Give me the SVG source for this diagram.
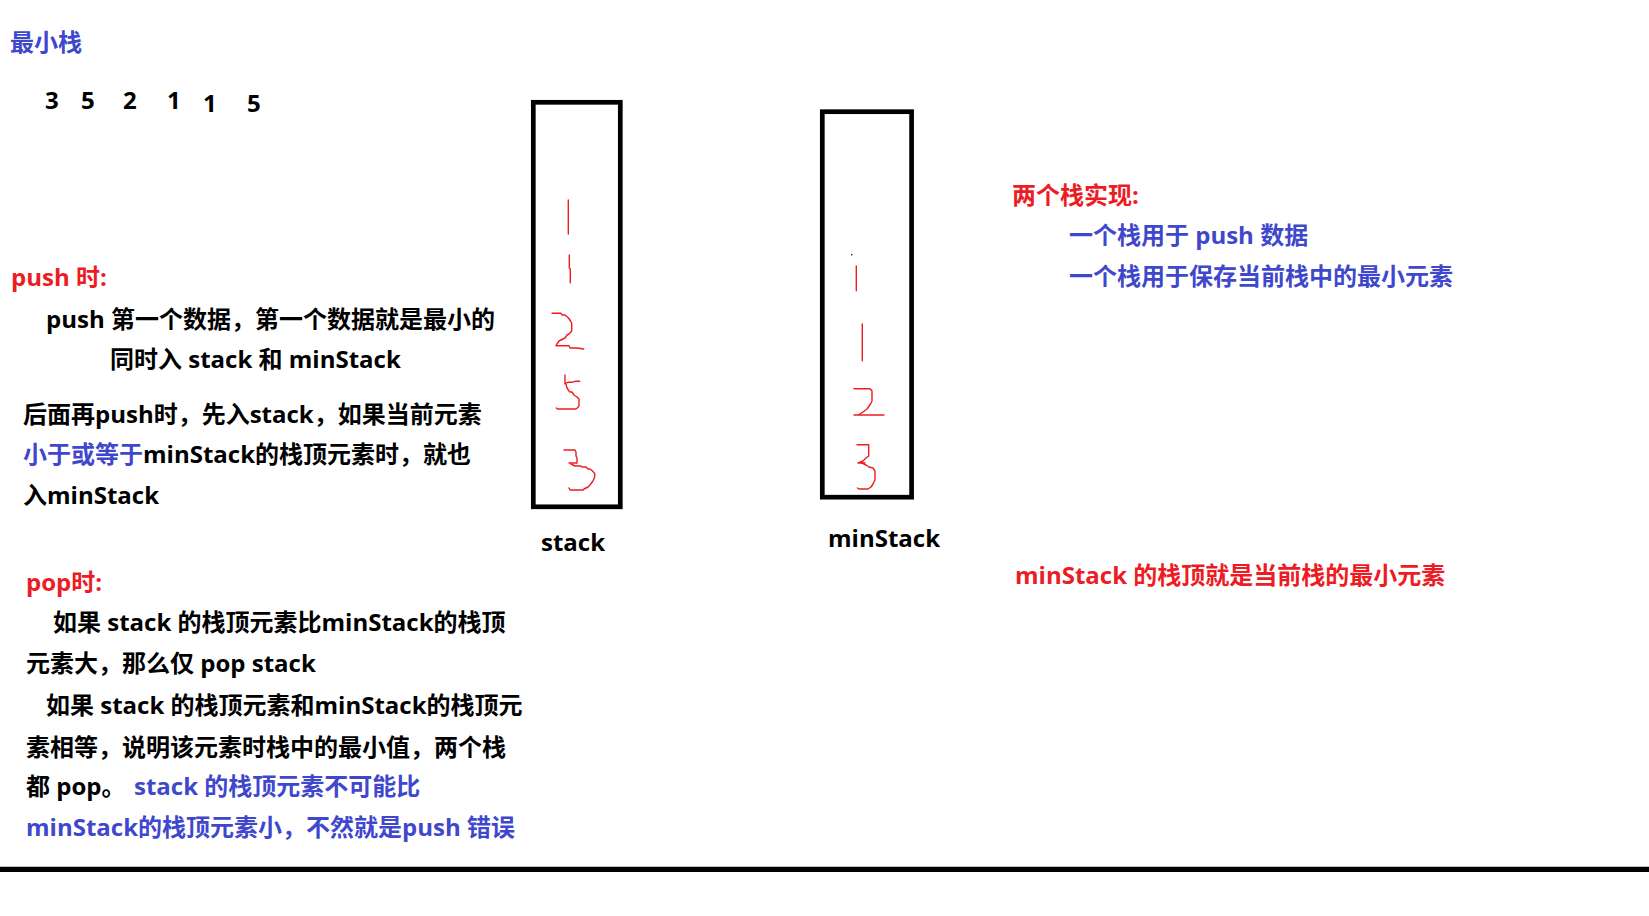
<svg xmlns="http://www.w3.org/2000/svg" width="1649" height="916" viewBox="0 0 1649 916">
<style>
text{font-family:"Open Sans","Noto Sans CJK SC",sans-serif;font-weight:bold;font-size:24px;fill:#000}
.r{fill:#ED1C24}
.b{fill:#3F48CC}
.box{fill:none;stroke:#000;stroke-width:4.7}
.hd{fill:none;stroke:#ED1C24;stroke-width:1.4;stroke-linejoin:round;stroke-linecap:round}
</style>
<rect width="1649" height="916" fill="#fff"/>
<g id="title">
<text class="b" x="10" y="50.5" font-size="23">最小栈</text>
</g>
<g id="sequence">
<text x="45" y="109">3</text>
<text x="81" y="109">5</text>
<text x="123" y="109">2</text>
<text x="167" y="109">1</text>
<text x="203" y="112">1</text>
<text x="247" y="112">5</text>
</g>
<g id="stack">
<rect class="box" x="533.3" y="102.3" width="87" height="404.5"/>
<path class="hd" d="M568.3 200V234"/>
<path class="hd" d="M569.3 255V268L570.3 269V282.7"/>
<path class="hd" d="M552 313.3H561L562 315H565L568.5 318L570.5 321L571.7 323V331L569 334L567 335L565 338L561 340L559 341L557 344L556 345.7H569L570 348H577L583.7 349"/>
<path class="hd" d="M565 375V384"/>
<path class="hd" d="M565 383.3L568 382.3H572L575 381.3H579.7"/>
<path class="hd" d="M566 384L567 388L569 391L570 392H572L574 395L577 397L579 399V406L577.5 407.8L576 409H557.5L556.3 408"/>
<path class="hd" d="M564 450H575L576 452V456L577 458V463H569"/>
<path class="hd" d="M571 464L575 466H581L582 467H586L588 469H590L592.5 471L594.7 473.5V477L593 481L590 485L588 487L584 489L583 490H570L569 488"/>
<text x="541" y="551" font-size="23">stack</text>
</g>
<g id="minStack">
<rect class="box" x="822.3" y="111.7" width="89.3" height="385.5"/>
<circle cx="851.8" cy="254.7" r="0.8" fill="#000"/>
<path class="hd" d="M856.3 266V290.7"/>
<path class="hd" d="M862.3 324V360.7"/>
<path class="hd" d="M854 388.7H870L872 391V401L870.5 404L867 409L863 412L859 414.7"/>
<path class="hd" d="M854 415H884"/>
<path class="hd" d="M857 444.7H868.7V456L866 458L863 461L858 463H865"/>
<path class="hd" d="M862 463L866 465L869 467L873 468L875 471V480L873 484L871 487L868 489H859L857.5 488"/>
<text x="828" y="547" font-size="23.5">minStack</text>
</g>
<g id="push-notes">
<text class="r" x="11" y="286">push 时:</text>
<text x="46" y="327.5">push 第一个数据，第一个数据就是最小的</text>
<text x="110" y="367.5">同时入 stack 和 minStack</text>
<text x="23" y="422.5">后面再push时，先入stack，如果当前元素</text>
<text x="23" y="463"><tspan class="b">小于或等于</tspan>minStack的栈顶元素时，就也</text>
<text x="23" y="504">入minStack</text>
</g>
<g id="pop-notes">
<text class="r" x="26" y="591">pop时:</text>
<text x="53" y="630.5">如果 stack 的栈顶元素比minStack的栈顶</text>
<text x="26" y="672">元素大，那么仅 pop stack</text>
<text x="46" y="714">如果 stack 的栈顶元素和minStack的栈顶元</text>
<text x="26" y="755.5">素相等，说明该元素时栈中的最小值，两个栈</text>
<text x="26" y="795">都 pop。 <tspan class="b" x="134">stack 的栈顶元素不可能比</tspan></text>
<text class="b" x="26" y="836">minStack的栈顶元素小，不然就是push 错误</text>
</g>
<g id="two-stacks">
<text class="r" x="1012" y="204">两个栈实现:</text>
<text class="b" x="1069" y="244">一个栈用于 push 数据</text>
<text class="b" x="1069" y="284.5">一个栈用于保存当前栈中的最小元素</text>
</g>
<g id="conclusion">
<text class="r" x="1015" y="584">minStack 的栈顶就是当前栈的最小元素</text>
</g>
<g id="connectors">
<line x1="0" y1="869.3" x2="1649" y2="869.3" stroke="#000" stroke-width="5.3"/>
</g>
</svg>
